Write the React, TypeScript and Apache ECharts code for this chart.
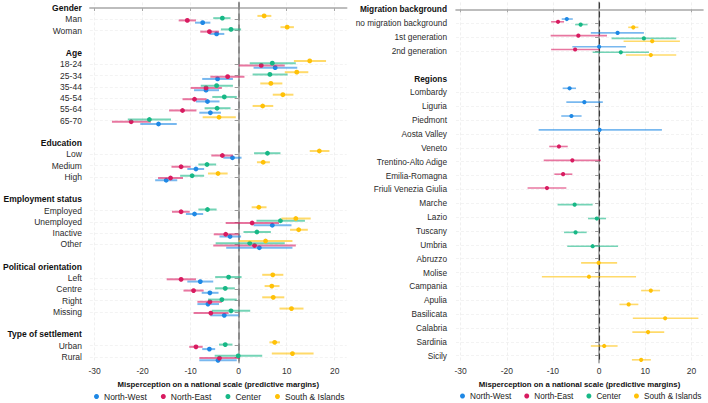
import React, { useEffect, useRef } from 'react';
import * as echarts from 'echarts';

// Macro-areas (series) and their colours
const regionNames = ['North-West', 'North-East', 'Center', 'South & Islands'];
const regionColors = ['#1E88E5', '#D81B60', '#17B886', '#FFC107'];

const xTicks = [-30, -20, -10, 0, 10, 20];
const xMin = -31;
const xMax = 22.5;
const referenceValue = 0;
const axisTitle = 'Misperception on a national scale (predictive margins)';

// ---------- Left panel: socio-demographic groups ----------
const leftHeaders = ['Gender', 'Age', 'Education', 'Employment status', 'Political orientation', 'Type of settlement'];
const leftGroupSizes = [2, 6, 3, 4, 4, 2];
const leftItems = [
  'Man', 'Woman',
  '18-24', '25-34', '35-44', '45-54', '55-64', '65-70',
  'Low', 'Medium', 'High',
  'Employed', 'Unemployed', 'Inactive', 'Other',
  'Left', 'Centre', 'Right', 'Missing',
  'Urban', 'Rural',
];

// [margin, lower CI, upper CI]
const northWestLeft = [
  [-7.5, -9.1, -5.9], [-4.6, -6.1, -3.0],
  [7.6, 3.1, 12.2], [-4.4, -7.6, -1.2], [-6.8, -9.3, -4.1], [-6.5, -8.9, -4.0], [-5.9, -8.2, -3.7], [-16.7, -20.5, -12.9],
  [-1.3, -3.2, 0.6], [-8.9, -10.7, -7.2], [-15.1, -17.4, -12.8],
  [-9.2, -11.0, -7.4], [7.0, 3.1, 11.0], [-1.8, -4.0, 0.5], [4.3, -2.6, 11.2],
  [-8.0, -10.7, -5.3], [-6.0, -7.7, -4.2], [-6.4, -8.6, -4.1], [-3.0, -5.9, 0.0],
  [-6.1, -7.6, -4.9], [-4.3, -8.2, -0.4],
];
const northEastLeft = [
  [-10.7, -12.5, -8.9], [-6.1, -8.0, -4.1],
  [4.7, 0.0, 9.6], [-2.3, -5.9, 1.2], [-6.8, -10.0, -3.5], [-9.2, -11.7, -6.7], [-11.7, -14.5, -8.8], [-22.4, -26.4, -18.3],
  [-3.4, -5.7, -1.2], [-12.0, -14.0, -10.0], [-14.2, -16.8, -11.6],
  [-12.0, -13.9, -10.2], [2.8, -2.7, 8.4], [-2.7, -5.2, 0.0], [3.3, -5.3, 11.9],
  [-12.0, -15.0, -8.9], [-9.4, -11.5, -7.3], [-6.0, -8.6, -3.5], [-5.8, -9.4, -2.1],
  [-8.9, -10.3, -7.5], [-4.0, -8.2, 0.3],
];
const centerLeft = [
  [-3.4, -5.3, -1.7], [-1.6, -3.7, 0.5],
  [7.0, 2.3, 11.9], [6.5, 2.9, 10.2], [-4.6, -7.9, -1.2], [-3.0, -5.5, -0.4], [-4.5, -7.1, -1.7], [-18.6, -23.1, -14.1],
  [6.0, 3.2, 8.7], [-6.6, -8.4, -4.7], [-9.7, -12.2, -7.2],
  [-6.5, -8.4, -4.6], [8.7, 3.7, 13.8], [3.8, 1.0, 6.7], [2.3, -4.8, 9.6],
  [-2.1, -4.9, 0.6], [-2.8, -4.9, -0.8], [-3.5, -6.4, -0.4], [-1.6, -5.6, 2.4],
  [-2.8, -4.1, -1.3], [-0.1, -5.0, 4.9],
];
const southLeft = [
  [5.3, 3.9, 6.8], [10.1, 8.7, 11.5],
  [14.8, 11.5, 18.2], [12.1, 9.6, 14.5], [6.7, 4.5, 9.1], [9.2, 7.1, 11.4], [5.0, 2.9, 7.2], [-4.1, -7.5, -0.6],
  [16.8, 14.8, 18.9], [5.1, 3.8, 6.5], [-4.3, -6.4, -2.3],
  [4.2, 2.7, 5.8], [11.9, 8.9, 15.0], [12.5, 10.7, 14.4], [5.6, 0.0, 11.2],
  [7.1, 4.9, 9.3], [6.9, 5.4, 8.5], [7.2, 4.9, 9.5], [11.0, 8.5, 13.5],
  [7.5, 6.4, 8.6], [11.2, 6.9, 15.6],
];

// ---------- Right panel: migration background and regions ----------
const rightHeaders = ['Migration background', 'Regions'];
const rightGroupSizes = [3, 20];
const rightItems = [
  'no migration background', '1st generation', '2nd generation',
  'Lombardy', 'Liguria', 'Piedmont', 'Aosta Valley',
  'Veneto', 'Trentino-Alto Adige', 'Emilia-Romagna', 'Friuli Venezia Giulia',
  'Marche', 'Lazio', 'Tuscany', 'Umbria',
  'Abruzzo', 'Molise', 'Campania', 'Apulia', 'Basilicata', 'Calabria', 'Sardinia', 'Sicily',
];

const northWestRight = [
  [-7.0, -8.1, -5.7], [4.0, -1.8, 9.7], [0.0, -5.8, 5.8],
  [-6.4, -7.9, -5.0], [-3.2, -7.1, 0.8], [-6.0, -8.2, -3.8], [0.1, -13.1, 13.6],
  null, null, null, null,
  null, null, null, null,
  null, null, null, null, null, null, null, null,
];
const northEastRight = [
  [-8.9, -10.4, -7.6], [-4.5, -10.5, 1.7], [-5.2, -10.4, 0.0],
  null, null, null, null,
  [-8.7, -10.8, -6.8], [-5.8, -12.0, 0.4], [-7.8, -9.7, -5.8], [-11.3, -15.5, -7.1],
  null, null, null, null,
  null, null, null, null, null, null, null, null,
];
const centerRight = [
  [-4.0, -5.2, -2.5], [9.7, 2.7, 16.7], [4.7, -1.4, 10.8],
  null, null, null, null,
  null, null, null, null,
  [-5.3, -9.0, -1.4], [-0.5, -2.4, 1.5], [-5.1, -7.6, -2.7], [-1.4, -6.9, 4.1],
  null, null, null, null, null, null, null, null,
];
const southRight = [
  [7.4, 6.3, 8.5], [11.5, 5.3, 17.5], [11.2, 5.8, 16.7],
  null, null, null, null,
  null, null, null, null,
  null, null, null, null,
  [-0.1, -3.9, 3.9], [-2.2, -12.4, 8.0], [11.2, 9.1, 13.2], [6.4, 4.4, 8.5],
  [14.3, 7.3, 21.5], [10.6, 7.2, 14.1], [1.1, -1.8, 4.0], [9.1, 7.1, 11.2],
];

type Triple = number[] | null;

// Header row, its items, then one empty row before the next header
function layoutRows(headers: string[], sizes: number[], items: string[]) {
  const headerRows: number[] = [];
  const itemRows: number[] = [];
  const labels = new Map<number, { text: string; header: boolean }>();
  let r = 0;
  let idx = 0;
  headers.forEach((h, g) => {
    headerRows.push(r);
    labels.set(r, { text: h, header: true });
    r++;
    for (let k = 0; k < sizes[g]; k++) {
      itemRows.push(r);
      labels.set(r, { text: items[idx++], header: false });
      r++;
    }
    r++;
  });
  return { headerRows, itemRows, labels, maxRow: r - 2 };
}

function buildData(values: Triple[], rows: number[], offset: number) {
  const out: number[][] = [];
  values.forEach((t, i) => {
    if (t) out.push([t[0], rows[i] + offset, t[1], t[2]]);
  });
  return out;
}

export default function App() {
  const ref = useRef<HTMLDivElement>(null);

  useEffect(() => {
    if (!ref.current) return;
    const chart = echarts.init(ref.current, null, { renderer: 'svg' });

    const left = layoutRows(leftHeaders, leftGroupSizes, leftItems);
    const right = layoutRows(rightHeaders, rightGroupSizes, rightItems);

    const panels = [
      {
        layout: left,
        values: [northWestLeft, northEastLeft, centerLeft, southLeft],
        offsets: [0.3, 0.1, -0.1, -0.3],
        fontSize: 8.5,
        labelMargin: 8,
        lineWidth: 2,
        radius: 2.4,
        zeroLine: { color: '#8c8c8c', width: 2, type: [7, 4] as number[] },
      },
      {
        layout: right,
        values: [northWestRight, northEastRight, centerRight, southRight],
        offsets: [-0.3, -0.1, 0.1, 0.3],
        fontSize: 8.3,
        labelMargin: 9,
        lineWidth: 1.6,
        radius: 2.1,
        zeroLine: { color: '#3a3a3a', width: 1.1, type: [6, 3] as number[] },
      },
    ];

    const font = "'Liberation Sans', Arial, Helvetica, sans-serif";

    const xAxis = panels.map((p, i) => ({
      type: 'value',
      gridIndex: i,
      min: xMin,
      max: xMax,
      name: axisTitle,
      nameLocation: 'middle',
      nameGap: 13.5,
      nameTextStyle: { fontWeight: 'bold', fontSize: 7.8, color: '#111', fontFamily: font },
      axisLine: { show: true, lineStyle: { color: '#a8a8a8', width: 1.6 } },
      axisTick: { show: true, length: 3, customValues: xTicks, lineStyle: { color: '#a8a8a8', width: 1 } },
      axisLabel: { customValues: xTicks, margin: 4, fontSize: 8.5, color: '#333', fontFamily: font },
      splitLine: { show: true, lineStyle: { color: '#ececec', width: 0.8, type: [3, 2] } },
    }));

    const yAxis = panels.map((p, i) => ({
      type: 'value',
      gridIndex: i,
      inverse: true,
      min: -0.5,
      max: p.layout.maxRow + 0.5,
      axisLine: { show: true, lineStyle: { color: '#a8a8a8', width: 1.8 } },
      axisTick: { show: true, length: 4, customValues: p.layout.itemRows, lineStyle: { color: '#9a9a9a', width: 1 } },
      axisLabel: {
        customValues: [...p.layout.headerRows, ...p.layout.itemRows].sort((a, b) => a - b),
        margin: p.labelMargin,
        formatter: (v: number) => {
          const lab = p.layout.labels.get(Math.round(v));
          if (!lab) return '';
          return lab.header ? `{h|${lab.text}}` : `{n|${lab.text}}`;
        },
        rich: {
          h: { fontWeight: 'bold', fontSize: p.fontSize, color: '#111', fontFamily: font },
          n: { fontSize: p.fontSize, color: '#2b2b2b', fontFamily: font },
        },
      },
      splitLine: { show: true, lineStyle: { color: '#f0f0f0', width: 0.8, type: [3, 2] } },
    }));

    const series: any[] = [];
    panels.forEach((p, pi) => {
      regionNames.forEach((name, k) => {
        const color = regionColors[k];
        const s: any = {
          type: 'custom',
          name,
          xAxisIndex: pi,
          yAxisIndex: pi,
          itemStyle: { color },
          encode: { x: [0, 2, 3], y: 1 },
          data: buildData(p.values[k], p.layout.itemRows, p.offsets[k]),
          z: 3,
          renderItem: (params: any, api: any) => {
            const y = api.value(1);
            const a = api.coord([api.value(2), y]);
            const b = api.coord([api.value(3), y]);
            const c = api.coord([api.value(0), y]);
            return {
              type: 'group',
              children: [
                {
                  type: 'line',
                  shape: { x1: a[0], y1: a[1], x2: b[0], y2: b[1] },
                  style: { stroke: color, lineWidth: p.lineWidth, opacity: 0.6 },
                },
                {
                  type: 'circle',
                  shape: { cx: c[0], cy: c[1], r: p.radius },
                  style: { fill: color },
                },
              ],
            };
          },
        };
        if (k === 0) {
          s.markLine = {
            silent: true,
            symbol: 'none',
            label: { show: false },
            z: 2,
            lineStyle: { color: p.zeroLine.color, width: p.zeroLine.width, type: p.zeroLine.type },
            data: [{ xAxis: referenceValue }],
          };
        }
        series.push(s);
      });
    });

    const legendBase = {
      data: regionNames,
      icon: 'circle',
      itemWidth: 5,
      itemHeight: 5,
      padding: 0,
      top: 392,
    };

    chart.setOption({
      animation: false,
      backgroundColor: '#ffffff',
      textStyle: { fontFamily: font },
      grid: [
        { left: 89.3, right: 361.3, top: 2.4, bottom: 40.4 },
        { left: 456, right: 5, top: 2.4, bottom: 40.4 },
      ],
      xAxis,
      yAxis,
      legend: [
        { ...legendBase, left: 94, itemGap: 14, textStyle: { fontSize: 8.5, color: '#222', fontFamily: font } },
        { ...legendBase, left: 460, itemGap: 13, textStyle: { fontSize: 8.2, color: '#222', fontFamily: font } },
      ],
      series,
    });

    return () => chart.dispose();
  }, []);

  return (
    <div
      ref={ref}
      style={{ position: 'fixed', left: 0, top: 0, width: 708, height: 403, background: '#fff' }}
    />
  );
}
